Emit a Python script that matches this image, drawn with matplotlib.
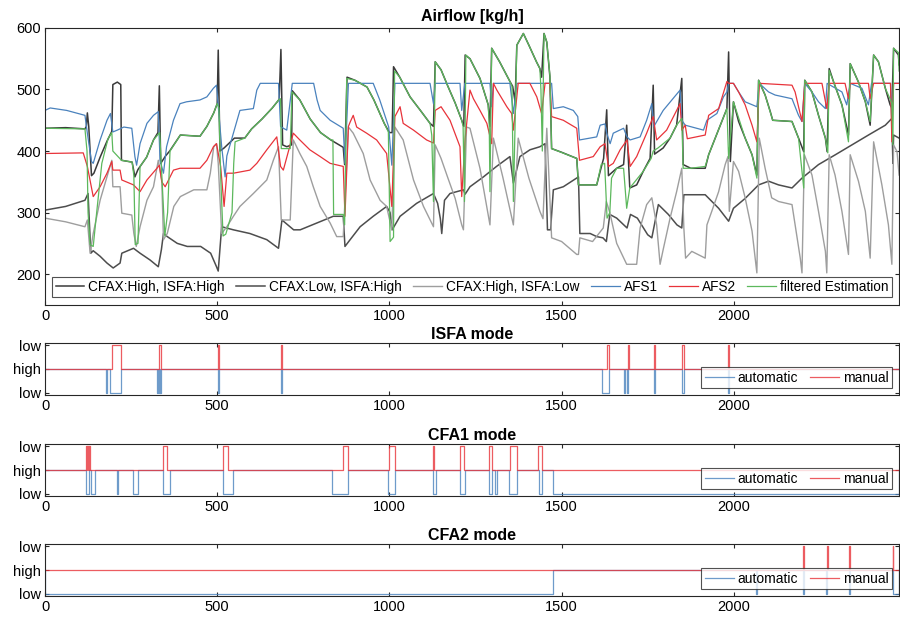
import matplotlib
matplotlib.use('Agg')
import matplotlib.pyplot as plt

plt.rcParams['font.family'] = ['Liberation Sans', 'DejaVu Sans']

# ---- Airflow traces (x = sample, y = kg/h) ----
a_x = [0, 60, 116, 120, 123, 127, 135, 142, 160, 180, 194, 197, 210, 220, 222, 253, 261, 270, 295, 315,
       328, 332, 336, 350, 362, 393, 450, 470, 490, 500, 503, 508, 520, 550, 580, 600, 630, 660, 680, 685,
       690, 702, 716, 718, 740, 770, 800, 830, 866, 870, 877, 900, 935, 955, 985, 1000, 1008, 1012, 1030, 1060,
       1090, 1118, 1128, 1133, 1150, 1170, 1191, 1210, 1216, 1220, 1234, 1263, 1287, 1292, 1297, 1320, 1350, 1358,
       1365, 1370, 1389, 1405, 1427, 1437, 1442, 1449, 1457, 1466, 1471, 1500, 1544, 1549, 1602, 1612, 1622, 1631,
       1636, 1660, 1680, 1689, 1698, 1718, 1737, 1757, 1766, 1770, 1795, 1815, 1834, 1849, 1853, 1875, 1917, 1927,
       1946, 1965, 1980, 1985, 1990, 1999, 2014, 2033, 2053, 2067, 2072, 2091, 2106, 2113, 2169, 2188, 2203, 2206,
       2227, 2246, 2266, 2271, 2277, 2290, 2314, 2333, 2338, 2362, 2382, 2396, 2406, 2420, 2440, 2454, 2459, 2464,
       2478, 2480]
a_y = [437, 438, 436, 440, 462, 440, 360, 364, 390, 416, 432, 508, 512, 508, 385, 382, 358, 370, 390, 418,
       430, 506, 380, 392, 400, 426, 424, 440, 462, 477, 564, 400, 405, 421, 421, 436, 452, 470, 484, 565,
       410, 407, 410, 498, 483, 452, 430, 418, 406, 378, 520, 515, 504, 483, 445, 430, 430, 537, 520, 488,
       466, 445, 440, 545, 532, 505, 478, 450, 440, 556, 550, 518, 475, 440, 567, 545, 513, 505,
       480, 572, 591, 572, 545, 534, 520, 591, 577, 521, 404, 398, 388, 345, 345, 367, 388, 467,
       360, 372, 378, 442, 340, 345, 367, 388, 507, 395, 405, 421, 442, 518, 378, 372, 372, 394,
       421, 448, 469, 561, 383, 480, 448, 421, 394, 361, 515, 491, 464, 450, 448, 421, 399, 515,
       496, 458, 421, 399, 534, 512, 475, 426, 542, 512, 480, 442, 556, 545, 502, 475, 470, 567,
       556, 540]

b_x = [0, 60, 116, 125, 133, 140, 160, 180, 198, 218, 223, 257, 276, 305, 329, 338, 344, 355, 384, 413,
       452, 481, 498, 503, 513, 547, 595, 644, 678, 688, 722, 741, 789, 837, 866, 871, 886, 915, 953, 992,
       1002, 1008, 1031, 1079, 1128, 1140, 1148, 1152, 1160, 1176, 1215, 1220, 1234, 1273, 1311, 1350, 1360, 1379,
       1408, 1437, 1452, 1459, 1468, 1476, 1505, 1549, 1553, 1583, 1602, 1620, 1630, 1640, 1660, 1690, 1700, 1720,
       1750, 1762, 1781, 1810, 1835, 1849, 1855, 1875, 1917, 1956, 1985, 1999, 2033, 2072, 2101, 2130, 2169, 2198,
       2246, 2295, 2343, 2391, 2440, 2459, 2462, 2464, 2480]
b_y = [304, 310, 320, 331, 234, 238, 229, 218, 210, 218, 234, 242, 234, 223, 212, 240, 266, 261, 250, 245,
       245, 234, 212, 205, 277, 272, 266, 256, 242, 288, 272, 272, 283, 294, 294, 245, 256, 277, 294, 310,
       300, 272, 294, 315, 331, 315, 290, 266, 320, 331, 337, 330, 342, 358, 375, 391, 348, 391,
       402, 407, 412, 272, 272, 337, 342, 358, 266, 266, 261, 259, 253, 297, 291, 275, 297, 291,
       264, 259, 313, 297, 280, 275, 329, 329, 329, 307, 286, 307, 323, 345, 351, 345, 340, 356,
       378, 394, 410, 426, 442, 453, 380, 426, 421]

c_x = [0, 60, 116, 123, 131, 140, 160, 180, 194, 197, 218, 223, 252, 258, 265, 276, 296, 315, 329, 339,
       344, 355, 374, 393, 432, 470, 480, 490, 498, 503, 513, 528, 547, 566, 605, 644, 663, 678, 686, 712,
       721, 740, 760, 779, 799, 828, 847, 866, 881, 895, 924, 944, 973, 992, 1007, 1016, 1040, 1070, 1099, 1128,
       1133, 1150, 1170, 1191, 1210, 1215, 1224, 1234, 1263, 1292, 1302, 1330, 1360, 1374, 1405, 1437, 1446, 1457,
       1471, 1500, 1544, 1549, 1553, 1590, 1621, 1630, 1640, 1660, 1689, 1718, 1728, 1747, 1762, 1776, 1786, 1795,
       1815, 1834, 1849, 1855, 1860, 1878, 1917, 1922, 1936, 1956, 1975, 1983, 1987, 1999, 2014, 2033, 2053, 2067,
       2074, 2091, 2110, 2130, 2169, 2178, 2193, 2198, 2205, 2227, 2246, 2266, 2270, 2277, 2294, 2314, 2333, 2338,
       2362, 2382, 2396, 2406, 2430, 2449, 2459, 2464, 2474, 2480]
c_y = [291, 285, 277, 288, 234, 266, 320, 358, 385, 342, 342, 299, 296, 266, 245, 277, 320, 342, 385, 353,
       256, 266, 310, 326, 337, 337, 364, 407, 412, 380, 266, 277, 294, 310, 331, 353, 385, 407, 288, 288,
       418, 396, 375, 342, 310, 283, 261, 261, 439, 429, 396, 353, 320, 310, 272, 439, 418, 353, 310, 277,
       410, 388, 356, 323, 280, 272, 439, 437, 372, 280, 421, 356, 280, 421, 356, 302, 290, 437,
       259, 253, 232, 232, 259, 253, 275, 318, 300, 250, 216, 216, 275, 313, 324, 280, 216, 240,
       291, 334, 372, 275, 226, 237, 226, 280, 302, 334, 378, 391, 302, 383, 367, 324, 270, 202,
       421, 372, 324, 318, 313, 280, 226, 202, 394, 361, 302, 237, 202, 394, 361, 302, 232, 394,
       351, 302, 226, 415, 345, 280, 216, 410, 399, 361]

afs1_x = [0, 15, 63, 116, 123, 135, 140, 160, 180, 190, 197, 210, 229, 252, 261, 266, 276, 296, 315, 329,
          334, 344, 353, 373, 392, 411, 450, 470, 489, 498, 505, 513, 523, 528, 547, 566, 605, 615, 625, 678,
          684, 692, 702, 718, 780, 790, 799, 828, 866, 871, 881, 953, 972, 998, 1007, 1016, 1118, 1128, 1133, 1205,
          1210, 1219, 1292, 1297, 1302, 1350, 1360, 1370, 1471, 1476, 1505, 1534, 1547, 1552, 1602, 1612, 1626, 1631,
          1641, 1650, 1680, 1690, 1699, 1728, 1747, 1762, 1768, 1795, 1844, 1849, 1859, 1912, 1922, 1951, 1970, 1980,
          1985, 1999, 2014, 2033, 2067, 2074, 2101, 2120, 2169, 2188, 2198, 2206, 2227, 2246, 2266, 2271, 2314, 2328,
          2338, 2372, 2391, 2400, 2455, 2459, 2464, 2480]
afs1_y = [466, 470, 466, 458, 429, 383, 380, 418, 450, 461, 431, 434, 439, 437, 391, 377, 412, 445, 458, 464,
          385, 364, 407, 450, 477, 480, 483, 488, 502, 507, 460, 407, 358, 392, 429, 466, 469, 499, 510, 510,
          440, 437, 434, 510, 510, 483, 466, 450, 437, 380, 510, 510, 483, 439, 377, 510, 510, 477, 510, 510,
          466, 510, 510, 472, 510, 510, 461, 510, 510, 469, 472, 466, 456, 418, 423, 442, 444, 429,
          412, 429, 437, 423, 418, 423, 450, 477, 440, 466, 499, 450, 442, 434, 450, 461, 488, 496,
          510, 510, 496, 480, 472, 510, 496, 491, 485, 458, 448, 510, 496, 480, 469, 510, 496, 475,
          510, 502, 475, 510, 510, 442, 510, 510]

afs2_x = [0, 111, 123, 140, 160, 180, 194, 197, 218, 223, 257, 276, 296, 325, 332, 339, 349, 373, 392, 450,
          470, 489, 498, 510, 520, 528, 547, 595, 615, 644, 673, 684, 692, 721, 740, 769, 799, 828, 866, 871,
          881, 886, 895, 905, 934, 963, 992, 1007, 1016, 1031, 1040, 1070, 1108, 1128, 1133, 1150, 1176, 1205, 1210,
          1220, 1234, 1244, 1263, 1283, 1297, 1302, 1312, 1341, 1355, 1360, 1374, 1408, 1428, 1442, 1452, 1466, 1471,
          1505, 1544, 1552, 1592, 1612, 1626, 1636, 1650, 1670, 1690, 1699, 1718, 1747, 1766, 1776, 1805, 1844, 1849,
          1859, 1865, 1917, 1927, 1956, 1980, 1985, 1999, 2014, 2033, 2053, 2067, 2074, 2169, 2178, 2198, 2206, 2256,
          2270, 2277, 2323, 2333, 2338, 2391, 2396, 2406, 2455, 2459, 2464, 2480]
afs2_y = [396, 397, 375, 326, 342, 364, 383, 369, 369, 353, 345, 334, 353, 372, 377, 350, 342, 369, 372, 372,
          385, 407, 412, 375, 310, 364, 364, 369, 380, 402, 423, 375, 369, 429, 418, 402, 391, 380, 375, 294,
          440, 447, 458, 439, 429, 418, 396, 310, 456, 472, 445, 434, 418, 413, 466, 472, 450, 407, 326,
          420, 499, 485, 466, 445, 412, 510, 499, 472, 461, 434, 510, 510, 488, 461, 510, 510, 456,
          450, 437, 385, 391, 407, 412, 375, 380, 402, 418, 375, 391, 429, 456, 418, 434, 477, 434,
          442, 420, 426, 458, 469, 513, 510, 510, 496, 475, 442, 415, 510, 507, 496, 448, 510, 510,
          469, 510, 510, 485, 510, 510, 485, 510, 510, 415, 510, 510]

est_x = [0, 116, 122, 125, 131, 140, 150, 165, 183, 194, 197, 222, 253, 258, 262, 270, 276, 295, 315, 333,
         340, 348, 356, 363, 393, 450, 470, 490, 500, 505, 510, 517, 525, 543, 548, 552, 580, 600, 630, 660,
         680, 684, 686, 712, 717, 740, 770, 800, 830, 836, 838, 866, 870, 876, 900, 935, 955, 985, 997, 1002,
         1012, 1015, 1030, 1060, 1090, 1118, 1123, 1128, 1133, 1150, 1170, 1191, 1210, 1214, 1218, 1222, 1234, 1263,
         1287, 1290, 1292, 1297, 1320, 1350, 1356, 1360, 1370, 1389, 1405, 1427, 1437, 1440, 1444, 1449, 1457, 1466,
         1471, 1544, 1549, 1602, 1615, 1625, 1632, 1640, 1645, 1660, 1680, 1689, 1698, 1737, 1760, 1766, 1780, 1815,
         1834, 1849, 1853, 1875, 1917, 1927, 1946, 1965, 1980, 1985, 1999, 2033, 2053, 2067, 2072, 2091, 2113, 2169,
         2188, 2203, 2206, 2227, 2246, 2266, 2273, 2277, 2290, 2314, 2333, 2338, 2362, 2382, 2396, 2406, 2420, 2440,
         2459, 2462, 2464, 2478, 2480]
est_y = [437, 436, 400, 300, 248, 245, 300, 380, 420, 430, 400, 385, 382, 360, 248, 250, 375, 390, 418, 430,
         350, 262, 300, 400, 426, 424, 440, 462, 477, 470, 360, 262, 265, 300, 380, 415, 421, 436, 452, 470,
         484, 485, 404, 404, 496, 483, 452, 430, 418, 418, 297, 297, 280, 518, 515, 504, 483, 445, 431, 253,
         260, 530, 520, 488, 466, 445, 426, 318, 545, 532, 505, 478, 450, 440, 318, 556, 550, 518,
         475, 440, 334, 567, 545, 513, 505, 318, 572, 591, 572, 545, 534, 500, 400, 591, 577, 523,
         404, 388, 345, 345, 378, 380, 291, 300, 356, 372, 372, 307, 340, 367, 388, 400, 405, 421,
         442, 453, 372, 372, 375, 394, 421, 448, 469, 388, 480, 421, 394, 356, 515, 491, 450, 448,
         421, 340, 515, 496, 458, 421, 397, 531, 512, 475, 415, 542, 512, 480, 448, 556, 545, 502,
         478, 410, 567, 560, 530]

x_max = 2480

# ---- mode switching: intervals where the mode is "low" ----
isfa_auto_low = [(177, 180), (189, 221), (325, 328), (330, 333), (334, 337), (502, 505), (684, 687),
                 (1618, 1638), (1681, 1684), (1689, 1693), (1769, 1772), (1851, 1854), (1984, 1987)]
isfa_man_low = [(195, 221), (331, 337), (502, 505), (684, 687), (1631, 1638), (1692, 1695),
                (1769, 1772), (1851, 1854), (1984, 1987)]

cfa1_auto_low = [(119, 128), (134, 145), (210, 213), (256, 270), (343, 363), (518, 545), (833, 880),
                 (997, 1016), (1127, 1134), (1205, 1220), (1290, 1298), (1307, 1313), (1347, 1371),
                 (1435, 1443), (1475, x_max)]
cfa1_man_low = [(119, 121), (122, 124), (125, 127), (128, 131), (343, 355), (518, 531), (866, 880),
                (1000, 1016), (1127, 1130), (1205, 1217), (1290, 1298), (1350, 1371), (1432, 1443)]

cfa2_auto_low = [(0, 1474), (2064, 2067), (2201, 2204), (2269, 2272), (2334, 2337), (2462, x_max)]
cfa2_man_low = [(2201, 2203), (2271, 2273), (2334, 2336), (2461, 2463)]


def step_line(intervals, low):
    xs, ys = [0], [0]
    for a, b in intervals:
        xs += [a, a, b, b]
        ys += [0, low, low, 0]
    xs.append(x_max)
    ys.append(0)
    return xs, ys


def style_axes(ax):
    ax.tick_params(direction='in', top=True, right=True, labelsize=10.5, length=3,
                   color='#262626', pad=3)
    for s in ax.spines.values():
        s.set_color('#262626')
        s.set_linewidth(0.8)
    ax.set_xlim(0, x_max)
    ax.set_xticks([0, 500, 1000, 1500, 2000])


blue = '#4a82bd'
red = '#e8333a'
green = '#5cb85c'

fig = plt.figure(figsize=(9, 6.21), dpi=100)

ax = fig.add_axes([0.05, 0.509, 0.949, 0.446])
ax.plot(a_x, a_y, color='#3a3a3a', lw=1.1, label='CFAX:High, ISFA:High')
ax.plot(b_x, b_y, color='#4d4d4d', lw=1.1, label='CFAX:Low, ISFA:High')
ax.plot(c_x, c_y, color='#9e9e9e', lw=1.0, label='CFAX:High, ISFA:Low')
ax.plot(afs1_x, afs1_y, color=blue, lw=0.9, label='AFS1')
ax.plot(afs2_x, afs2_y, color=red, lw=0.9, label='AFS2')
ax.plot(est_x, est_y, color=green, lw=0.9, label='filtered Estimation')
ax.set_ylim(150, 600)
ax.set_yticks([200, 300, 400, 500, 600])
style_axes(ax)
ax.set_title('Airflow [kg/h]', fontsize=11.5, fontweight='bold', pad=5)
leg = ax.legend(loc='lower center', ncol=6, fontsize=9.8, frameon=True, fancybox=False,
                edgecolor='#262626', handlelength=2.1, handletextpad=0.3, columnspacing=0.85,
                borderaxespad=0.55, borderpad=0.25)
leg.get_frame().set_linewidth(0.8)

modes = [
    ('ISFA mode', isfa_auto_low, isfa_man_low, 0.364),
    ('CFA1 mode', cfa1_auto_low, cfa1_man_low, 0.201),
    ('CFA2 mode', cfa2_auto_low, cfa2_man_low, 0.040),
]
for title, auto_low, man_low, bottom in modes:
    m = fig.add_axes([0.05, bottom, 0.949, 0.084])
    xa, ya = step_line(auto_low, -1)
    xm, ym = step_line(man_low, 1)
    m.plot(xa, ya, color=blue, lw=0.9, alpha=0.8, label='automatic')
    m.plot(xm, ym, color=red, lw=0.9, alpha=0.8, label='manual')
    m.set_ylim(-1.1, 1.1)
    m.set_yticks([-1, 0, 1])
    m.set_yticklabels(['low', 'high', 'low'])
    style_axes(m)
    m.set_title(title, fontsize=11.5, fontweight='bold', pad=3)
    lg = m.legend(loc='lower right', ncol=2, fontsize=10, frameon=True, fancybox=False,
                  edgecolor='#262626', handlelength=2.1, handletextpad=0.25, columnspacing=0.9,
                  borderaxespad=0.5, borderpad=0.25)
    lg.get_frame().set_linewidth(0.8)

fig.savefig('out.png', dpi=100)
